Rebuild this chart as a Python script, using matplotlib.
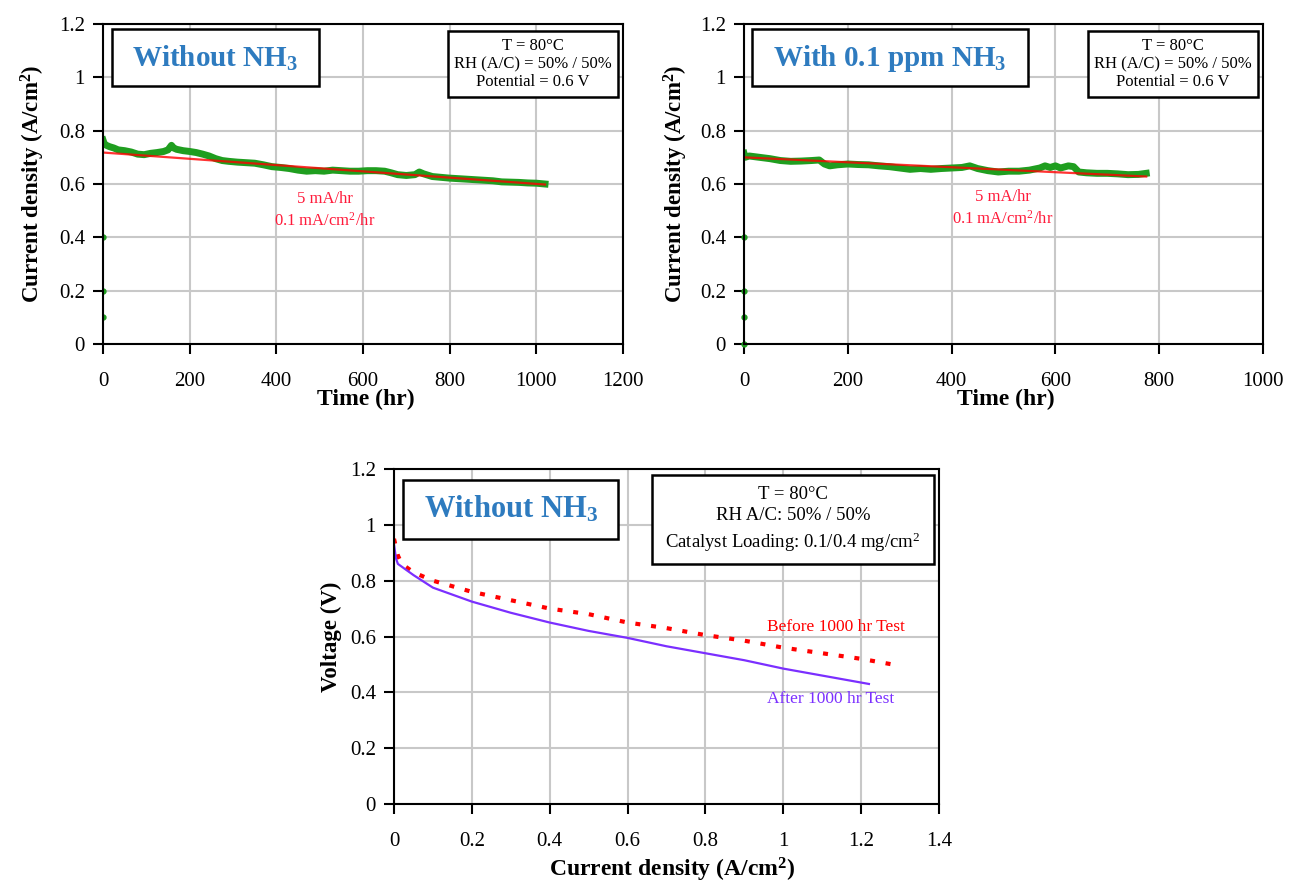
import matplotlib
matplotlib.use("Agg")
import matplotlib.pyplot as plt
from matplotlib.patches import Rectangle

plt.rcParams['font.family'] = ['Liberation Serif', 'DejaVu Serif']
plt.rcParams['mathtext.fontset'] = 'custom'
plt.rcParams['mathtext.rm'] = 'Liberation Serif'
plt.rcParams['mathtext.it'] = 'Liberation Serif:italic'
plt.rcParams['mathtext.bf'] = 'Liberation Serif:bold'

# ---- data ----
# top left: without NH3, durability at 0.6 V
t_no = [0, 3, 8, 15, 25, 35, 50, 65, 80, 95, 110, 125, 140, 150, 158, 163, 170, 185,
        200, 215, 230, 245, 260, 275, 290, 310, 330, 350, 370, 390, 410, 430, 450,
        470, 490, 510, 530, 550, 570, 590, 610, 630, 650, 665, 680, 700, 720, 730,
        740, 760, 780, 800, 820, 840, 860, 880, 900, 920, 940, 960, 980, 1000, 1020]
j_no = [0.765, 0.750, 0.745, 0.740, 0.735, 0.728, 0.725, 0.720, 0.712, 0.710, 0.715,
        0.718, 0.722, 0.728, 0.745, 0.735, 0.730, 0.725, 0.722, 0.718, 0.712, 0.705,
        0.695, 0.688, 0.685, 0.682, 0.680, 0.678, 0.672, 0.665, 0.662, 0.658, 0.652,
        0.648, 0.650, 0.648, 0.652, 0.650, 0.648, 0.648, 0.650, 0.650, 0.648, 0.642,
        0.635, 0.632, 0.635, 0.645, 0.638, 0.628, 0.625, 0.622, 0.620, 0.618, 0.616,
        0.614, 0.612, 0.608, 0.607, 0.606, 0.604, 0.603, 0.600]
start_no = [0.4, 0.2, 0.1]
fit_no_t = [0, 1020]
fit_no_j = [0.718, 0.598]

# top right: with 0.1 ppm NH3
t_nh = [0, 2, 10, 30, 50, 70, 90, 110, 130, 145, 155, 165, 180, 200, 220, 240, 260,
        280, 300, 320, 340, 360, 380, 400, 420, 435, 450, 470, 490, 510, 530, 550,
        570, 580, 590, 600, 610, 625, 635, 645, 660, 680, 700, 720, 740, 760, 775]
j_nh = [0.715, 0.700, 0.705, 0.700, 0.695, 0.688, 0.685, 0.686, 0.688, 0.690, 0.675,
        0.668, 0.672, 0.675, 0.673, 0.672, 0.668, 0.665, 0.660, 0.655, 0.658, 0.655,
        0.658, 0.660, 0.662, 0.668, 0.658, 0.650, 0.645, 0.648, 0.648, 0.652, 0.660,
        0.668, 0.662, 0.668, 0.660, 0.668, 0.665, 0.645, 0.642, 0.640, 0.640, 0.638,
        0.635, 0.636, 0.640]
start_nh = [0.4, 0.2, 0.1, 0.0]
fit_nh_t = [0, 775]
fit_nh_j = [0.700, 0.628]

# bottom: polarization curves without NH3
i_before = [0, 0.005, 0.01, 0.02, 0.05, 0.1, 0.2, 0.3, 0.4, 0.5, 0.6, 0.7, 0.8,
            0.9, 1.0, 1.1, 1.2, 1.28]
v_before = [0.95, 0.92, 0.89, 0.86, 0.83, 0.80, 0.76, 0.73, 0.70, 0.68, 0.65, 0.63,
            0.605, 0.585, 0.56, 0.54, 0.52, 0.50]
i_after = [0, 0.005, 0.01, 0.05, 0.1, 0.2, 0.3, 0.4, 0.5, 0.6, 0.7, 0.8, 0.9, 1.0,
           1.1, 1.22]
v_after = [0.93, 0.88, 0.86, 0.82, 0.775, 0.725, 0.685, 0.65, 0.62, 0.595, 0.565,
           0.54, 0.515, 0.485, 0.46, 0.43]

green = '#1f9e1f'
red = '#ff0000'
purple = '#7b2fff'
blue = '#2e7bbf'

W, H = 1297, 891
fig = plt.figure(figsize=(W / 100, H / 100), dpi=100)


def px_axes(l, r, t, b):
    return fig.add_axes([l / W, 1 - b / H, (r - l) / W, (b - t) / H])


def style(ax, xmax, ylab, xlab, ylab_x, xlab_y):
    ax.set_ylim(0, 1.2)
    ax.set_xlim(0, xmax)
    ax.set_yticks([0, 0.2, 0.4, 0.6, 0.8, 1, 1.2])
    ax.set_yticklabels(['0', '0.2', '0.4', '0.6', '0.8', '1', '1.2'])
    ax.grid(True, color='#c8c8c8', lw=1.5)
    ax.set_axisbelow(True)
    for s in ax.spines.values():
        s.set_linewidth(1.5)
        s.set_color('black')
    ax.tick_params(axis='both', direction='out', length=7, width=1.5, labelsize=15)
    ax.tick_params(axis='x', pad=13)
    ax.tick_params(axis='y', pad=6)
    ax.set_ylabel(ylab, fontsize=16.5, fontweight='bold')
    ax.set_xlabel(xlab, fontsize=17, fontweight='bold', va='top')
    ax.yaxis.set_label_coords(ylab_x, 0.5)
    ax.xaxis.set_label_coords(0.505, xlab_y)


def box(ax, x0, x1, y0, y1):
    ax.add_patch(Rectangle((x0, y0), x1 - x0, y1 - y0, transform=ax.transAxes,
                           fill=True, facecolor='white', edgecolor='black', lw=1.8,
                           zorder=5))


jlab = r'Current density (A/cm$^{\mathbf{2}}$)'
info_top = 'T = 80\u00b0C\nRH (A/C) = 50% / 50%\nPotential = 0.6 V'
rate = '5 mA/hr\n0.1 mA/cm$^2$/hr'

# ---- top left ----
ax1 = px_axes(103, 623, 24, 344)
ax1.plot(t_no, j_no, color=green, lw=5)
ax1.plot([0] * len(start_no), start_no, 'o', color=green, ms=3.5)
ax1.plot(fit_no_t, fit_no_j, color=red, lw=1.6, alpha=0.8)
style(ax1, 1200, jlab, 'Time (hr)', -0.108, -0.140)
ax1.set_xticks([0, 200, 400, 600, 800, 1000, 1200])
box(ax1, 0.017, 0.415, 0.806, 0.984)
ax1.text(0.216, 0.893, r'Without NH$_\mathbf{3}$', transform=ax1.transAxes,
         ha='center', va='center', fontsize=21, fontweight='bold', color=blue, zorder=6)
box(ax1, 0.663, 0.990, 0.772, 0.978)
ax1.text(0.827, 0.875, info_top, transform=ax1.transAxes, ha='center', va='center',
         fontsize=12, linespacing=1.2, zorder=6)
ax1.text(512, 0.50, rate, ha='center', va='center', fontsize=12, color='#ff1a3a',
         linespacing=1.35)

# ---- top right ----
ax2 = px_axes(744, 1263, 24, 344)
ax2.plot(t_nh, j_nh, color=green, lw=5)
ax2.plot([0] * len(start_nh), start_nh, 'o', color=green, ms=3.5, clip_on=False)
ax2.plot(fit_nh_t, fit_nh_j, color=red, lw=1.6, alpha=0.8)
style(ax2, 1000, jlab, 'Time (hr)', -0.105, -0.140)
ax2.set_xticks([0, 200, 400, 600, 800, 1000])
box(ax2, 0.0154, 0.547, 0.806, 0.984)
ax2.text(0.281, 0.893, r'With 0.1 ppm NH$_\mathbf{3}$', transform=ax2.transAxes,
         ha='center', va='center', fontsize=21, fontweight='bold', color=blue, zorder=6)
box(ax2, 0.663, 0.990, 0.772, 0.978)
ax2.text(0.827, 0.875, info_top, transform=ax2.transAxes, ha='center', va='center',
         fontsize=12, linespacing=1.2, zorder=6)
ax2.text(499, 0.51, rate, ha='center', va='center', fontsize=12, color='#ff1a3a',
         linespacing=1.35)

# ---- bottom ----
ax3 = px_axes(394, 939, 469, 804)
ax3.plot(i_before, v_before, color=red, lw=3, linestyle=(0, (1.2, 2.6)))
ax3.plot(i_after, v_after, color=purple, lw=1.6)
style(ax3, 1.4, 'Voltage (V)', r'Current density (A/cm$^{\mathbf{2}}$)', -0.095, -0.155)
ax3.set_xticks([0, 0.2, 0.4, 0.6, 0.8, 1, 1.2, 1.4])
ax3.set_xticklabels(['0', '0.2', '0.4', '0.6', '0.8', '1', '1.2', '1.4'])
ax3.xaxis.set_label_coords(0.51, -0.155)
box(ax3, 0.0165, 0.411, 0.791, 0.967)
ax3.text(0.214, 0.879, r'Without NH$_\mathbf{3}$', transform=ax3.transAxes,
         ha='center', va='center', fontsize=22, fontweight='bold', color=blue, zorder=6)
box(ax3, 0.473, 0.991, 0.716, 0.982)
ax3.text(0.732, 0.849, 'T = 80\u00b0C\nRH A/C: 50% / 50%\nCatalyst Loading: 0.1/0.4 mg/cm$^2$',
         transform=ax3.transAxes, ha='center', va='center', fontsize=13.5,
         linespacing=1.35, zorder=6)
ax3.text(0.9575, 0.635, 'Before 1000 hr Test', ha='left', va='center', fontsize=12.5,
         color=red)
ax3.text(0.9575, 0.375, 'After 1000 hr Test', ha='left', va='center', fontsize=12.5,
         color=purple)

fig.savefig('out.png', dpi=100)
